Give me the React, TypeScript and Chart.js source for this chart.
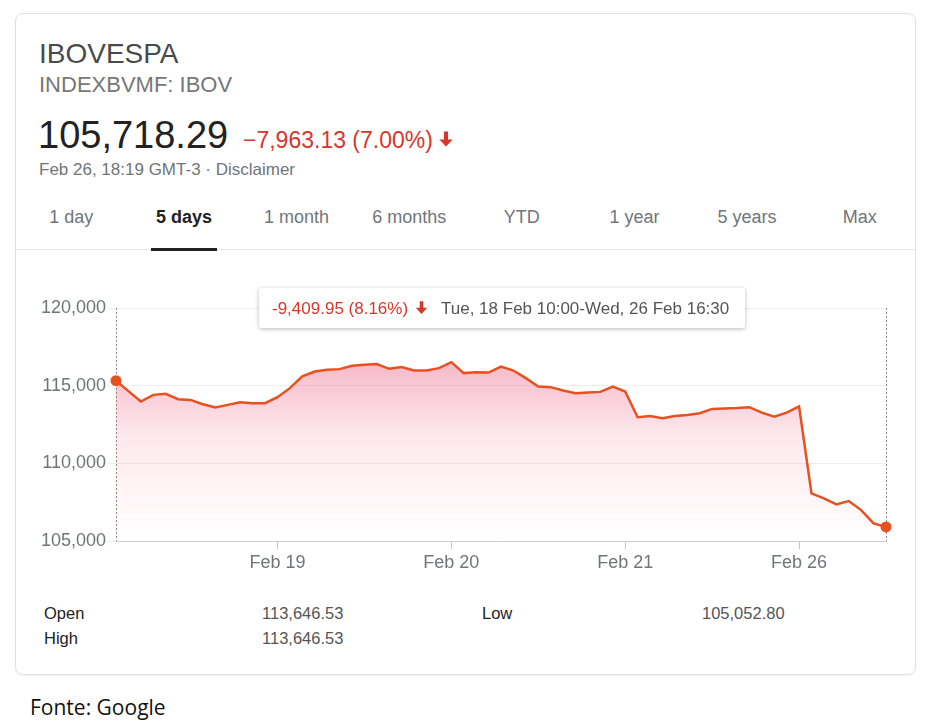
import React, { useEffect, useRef } from "react";
import { Chart, registerables } from "chart.js";

Chart.register(...registerables);

// ---------- data ----------
const TITLE = "IBOVESPA";
const SUBTITLE = "INDEXBVMF: IBOV";
const PRICE = "105,718.29";
const CHANGE = "\u22127,963.13 (7.00%)";
const TIMESTAMP = "Feb 26, 18:19 GMT-3 \u00b7 Disclaimer";
const TABS = ["1 day", "5 days", "1 month", "6 months", "YTD", "1 year", "5 years", "Max"];
const ACTIVE_TAB = "5 days";
const RANGE_CHANGE = "-9,409.95 (8.16%)";
const RANGE_LABEL = "Tue, 18 Feb 10:00-Wed, 26 Feb 16:30";

// 30-minute samples, Tue 18 Feb 10:00 -> Wed 26 Feb 16:30
const VALUES = [
  115318, 114650, 113976, 114408, 114472, 114130, 114085, 113808, 113590, 113763,
  113937, 113872, 113872, 114260, 114840, 115600, 115910, 116020, 116065, 116280,
  116340, 116390, 116085, 116195, 115975, 115975, 116130, 116515, 115808, 115870,
  115845, 116233, 115975, 115485, 114943, 114905, 114685, 114517, 114555, 114600,
  114943, 114620, 112970, 113053, 112905, 113053, 113118, 113228, 113505, 113530,
  113560, 113615, 113266, 113008, 113266, 113670, 108067, 107745, 107358, 107570,
  106990, 106132, 105908,
];
const X_TICK_INDEX = [13, 27, 41, 55];
const X_TICK_LABELS = ["Feb 19", "Feb 20", "Feb 21", "Feb 26"];
const Y_TICKS = [105000, 110000, 115000, 120000];
const Y_MIN = 105000;
const Y_MAX = 120000;

const STAT_LABELS_LEFT = ["Open", "High"];
const STAT_VALUES_LEFT = ["113,646.53", "113,646.53"];
const STAT_LABELS_RIGHT = ["Low"];
const STAT_VALUES_RIGHT = ["105,052.80"];
const SOURCE = "Fonte: Google";

// ---------- styles ----------
const FONT = "'Liberation Sans', Arial, Helvetica, sans-serif";
const LINE = "#e8511f";
const RED = "#d6372b";
const GRAY = "#70757a";

const ArrowDown = ({ size, color, style }: any) => (
  <svg width={size} height={size} viewBox="0 0 24 24" style={style}>
    <path fill={color} d="M9.5 3h5v9.5H20L12 21 4 12.5h5.5z" />
  </svg>
);

const T = ({ x, y, base, size, color, weight, family, children, center }: any) => {
  const top = base !== undefined ? base - 0.8465 * size : y - 0.5 * size;
  return (
    <div
      style={{
        position: "absolute",
        left: center ? x - 100 : x,
        width: center ? 200 : undefined,
        textAlign: center ? "center" : undefined,
        top,
        fontSize: size,
        lineHeight: `${size}px`,
        color,
        fontWeight: weight || 400,
        fontFamily: family || FONT,
        whiteSpace: "nowrap",
      }}
    >
      {children}
    </div>
  );
};

const rangeMarkers = {
  id: "rangeMarkers",
  beforeDatasetsDraw(chart: any) {
    const { ctx, chartArea, scales } = chart;
    ctx.save();
    ctx.setLineDash([2, 2]);
    ctx.strokeStyle = "#8a8a8a";
    ctx.lineWidth = 1;
    [0, VALUES.length - 1].forEach((i) => {
      const px = Math.round(scales.x.getPixelForValue(i)) + 0.5;
      ctx.beginPath();
      ctx.moveTo(px, chartArea.top);
      ctx.lineTo(px, chartArea.bottom);
      ctx.stroke();
    });
    ctx.restore();
  },
};

function PriceChart() {
  const ref = useRef<HTMLCanvasElement>(null);
  useEffect(() => {
    const last = VALUES.length - 1;
    const chart = new Chart(ref.current as HTMLCanvasElement, {
      type: "line",
      data: {
        datasets: [
          {
            data: VALUES.map((v, i) => ({ x: i, y: v })),
            borderColor: LINE,
            borderWidth: 2.5,
            tension: 0,
            fill: "start",
            clip: false,
            backgroundColor: (c: any) => {
              const area = c.chart.chartArea;
              if (!area) return "rgba(0,0,0,0)";
              const g = c.chart.ctx.createLinearGradient(0, area.top, 0, area.bottom);
              g.addColorStop(0, "rgba(238,80,120,0.6)");
              g.addColorStop(0.55, "rgba(238,80,120,0.13)");
              g.addColorStop(1, "rgba(238,80,120,0)");
              return g;
            },
            pointRadius: (c: any) => (c.dataIndex === 0 || c.dataIndex === last ? 5.5 : 0),
            pointBackgroundColor: LINE,
            pointBorderWidth: 0,
            pointHoverRadius: 0,
          } as any,
        ],
      },
      options: {
        animation: false,
        responsive: false,
        maintainAspectRatio: false,
        events: [],
        layout: { padding: { top: 18, right: 24, left: 0, bottom: 0 } },
        plugins: { legend: { display: false }, tooltip: { enabled: false } },
        scales: {
          x: {
            type: "linear",
            min: 0,
            max: last,
            afterBuildTicks: (s: any) => {
              s.ticks = X_TICK_INDEX.map((v) => ({ value: v }));
            },
            afterFit: (s: any) => {
              s.height = 50;
            },
            ticks: {
              autoSkip: false,
              maxRotation: 0,
              padding: 3,
              color: GRAY,
              font: { family: FONT, size: 18 },
              callback: (v: any) => {
                const k = X_TICK_INDEX.indexOf(Number(v));
                return k >= 0 ? X_TICK_LABELS[k] : "";
              },
            },
            grid: { drawOnChartArea: false, drawTicks: true, tickLength: 8, color: "#c4c4c4" },
            border: { display: true, color: "#cfcfcf" },
          },
          y: {
            min: Y_MIN,
            max: Y_MAX,
            afterBuildTicks: (s: any) => {
              s.ticks = Y_TICKS.map((v) => ({ value: v }));
            },
            afterFit: (s: any) => {
              s.width = 96;
            },
            ticks: {
              padding: 2,
              color: GRAY,
              font: { family: FONT, size: 18 },
              callback: (v: any) => Number(v).toLocaleString("en-US"),
            },
            grid: { color: "#eeeeee", drawTicks: true, tickLength: 8 },
            border: { display: false },
          },
        },
      } as any,
      plugins: [rangeMarkers],
    });
    return () => chart.destroy();
  }, []);
  return (
    <canvas
      ref={ref}
      width={890}
      height={301}
      style={{ position: "absolute", left: 20, top: 290, width: 890, height: 301 }}
    />
  );
}

export default function App() {
  const tabW = 901 / TABS.length;
  const activeIdx = TABS.indexOf(ACTIVE_TAB);
  return (
    <div
      style={{
        position: "absolute",
        left: 0,
        top: 0,
        width: 926,
        height: 727,
        background: "#fff",
        overflow: "hidden",
        fontFamily: FONT,
      }}
    >
      <div
        style={{
          position: "absolute",
          left: 15,
          top: 13,
          width: 899,
          height: 660,
          border: "1px solid #dfe1e5",
          borderRadius: 8,
          boxShadow: "0 1px 2px rgba(0,0,0,0.06)",
        }}
      />
      <T x={39} base={64} size={28} color="#4a4a4a">{TITLE}</T>
      <T x={39} base={93} size={22} color="#777">{SUBTITLE}</T>
      <T x={38} base={148} size={38} color="#222">{PRICE}</T>
      <T x={243} base={148} size={23} color={RED}>{CHANGE}</T>
      <ArrowDown size={20} color={RED} style={{ position: "absolute", left: 436, top: 129 }} />
      <T x={39} base={175} size={17} color={GRAY}>{TIMESTAMP}</T>

      {TABS.map((t, i) => (
        <T
          key={t}
          x={15 + tabW * (i + 0.5)}
          y={217}
          size={18}
          center
          color={i === activeIdx ? "#222" : GRAY}
          weight={i === activeIdx ? 700 : 400}
        >
          {t}
        </T>
      ))}
      <div style={{ position: "absolute", left: 16, top: 249, width: 899, height: 1, background: "#e6e6e6" }} />
      <div
        style={{
          position: "absolute",
          left: 15 + tabW * (activeIdx + 0.5) - 33,
          top: 248,
          width: 66,
          height: 3,
          background: "#222",
        }}
      />

      <PriceChart />

      <div
        style={{
          position: "absolute",
          left: 259,
          top: 288,
          width: 486,
          height: 40,
          background: "#fff",
          borderRadius: 3,
          boxShadow: "0 1px 4px rgba(0,0,0,0.28)",
        }}
      />
      <T x={272} y={308} size={17} color={RED}>{RANGE_CHANGE}</T>
      <ArrowDown size={17} color={RED} style={{ position: "absolute", left: 413, top: 299 }} />
      <T x={441} y={308} size={17} color="#555">{RANGE_LABEL}</T>

      {STAT_LABELS_LEFT.map((l, i) => (
        <T key={l} x={44} y={613 + i * 25} size={16.5} color="#222">{l}</T>
      ))}
      {STAT_VALUES_LEFT.map((v, i) => (
        <T key={"v" + i} x={262} y={613 + i * 25} size={16.5} color="#555">{v}</T>
      ))}
      {STAT_LABELS_RIGHT.map((l, i) => (
        <T key={l} x={482} y={613 + i * 25} size={16.5} color="#222">{l}</T>
      ))}
      {STAT_VALUES_RIGHT.map((v, i) => (
        <T key={"r" + i} x={702} y={613 + i * 25} size={16.5} color="#555">{v}</T>
      ))}

      <T x={30} y={707} size={21} color="#111" family="'Open Sans', 'Noto Sans', sans-serif">{SOURCE}</T>
    </div>
  );
}
